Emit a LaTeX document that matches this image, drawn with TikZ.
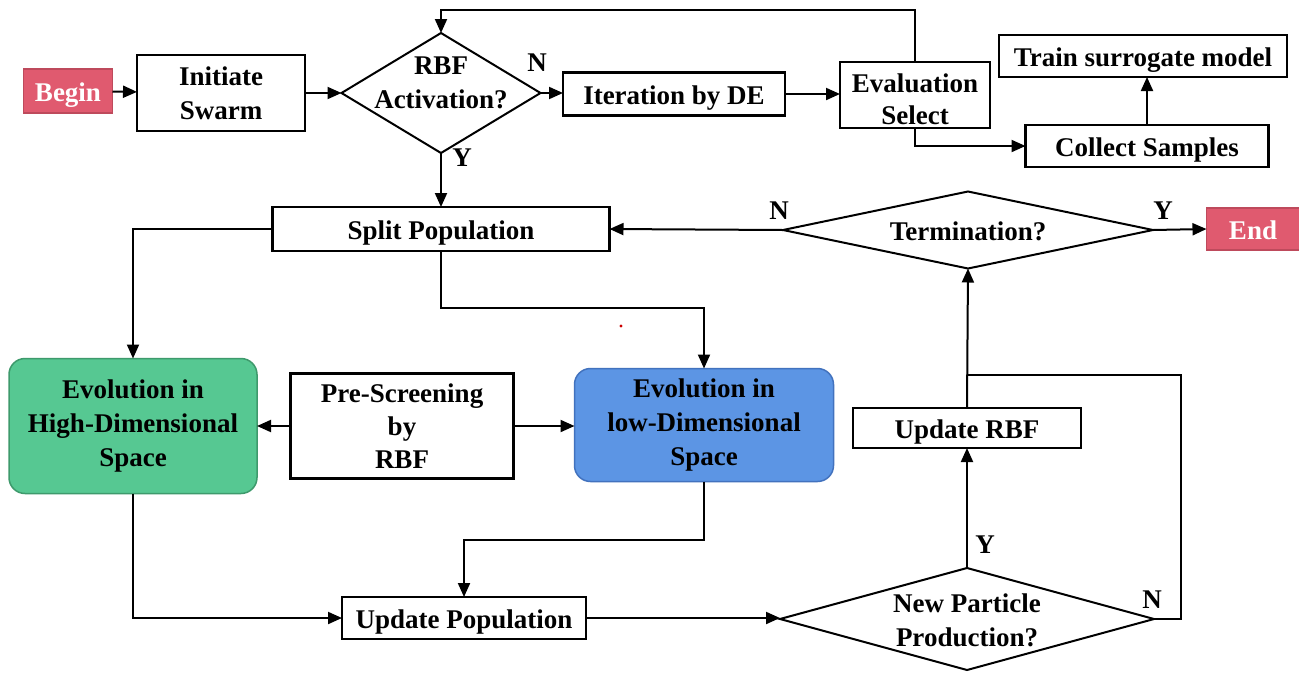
\documentclass[tikz,border=0pt]{standalone}
\usepackage{fontspec}
\setmainfont{Liberation Serif}
\usetikzlibrary{shapes.geometric,arrows.meta}
\definecolor{pinkf}{HTML}{E05A6F}
\definecolor{pinkd}{HTML}{BE4A5C}
\definecolor{greenf}{HTML}{56C892}
\definecolor{greend}{HTML}{3E9A6C}
\definecolor{bluef}{HTML}{5C95E4}
\definecolor{blued}{HTML}{4272BE}
\tikzset{
  box/.style={draw, line width=2.2pt, inner sep=0pt, outer sep=0pt, align=center},
  one/.style={text height=20pt, text depth=0pt},
  term/.style={box, one, fill=pinkf, draw=pinkd, line width=1.5pt, text=white},
  evo/.style={box, rounded corners=16pt, line width=1.5pt},
  dia/.style={draw, diamond, line width=2pt, inner sep=0pt, outer sep=0pt},
  arr/.style={line width=2pt, -{Triangle[length=14pt,width=12pt]}},
  ln/.style={line width=2pt},
  lab/.style={inner sep=0pt}
}
\begin{document}
\begin{tikzpicture}[x=1pt,y=-1pt, font=\fontsize{27}{34}\selectfont\bfseries]
\useasboundingbox[fill=white] (0,0) rectangle (1299,673);
% nodes
\node[term, minimum width=89, minimum height=44] (begin) at (68,91) {Begin};
\node[box, minimum width=168, minimum height=76] (init) at (221,93) {Initiate\\Swarm};
\node[dia, minimum width=199, minimum height=120] (rbf) at (441,93) {};
\node[lab, align=center] (rbft) at (441,83) {RBF\\Activation?};
\node[box, one, minimum width=222, minimum height=43] (iter) at (674,94) {Iteration by DE};
\node[box, minimum width=150, minimum height=66] (eval) at (915,95) {};
\node[lab, align=center, font=\fontsize{27}{32}\selectfont\bfseries] (evalt) at (915,99) {Evaluation\\Select};
\node[box, one, minimum width=288, minimum height=42] (train) at (1143,56) {Train surrogate model};
\node[box, one, minimum width=243, minimum height=42] (collect) at (1147,146) {Collect Samples};
\node[box, one, minimum width=337, minimum height=44] (split) at (441,229) {Split Population};
\node[dia, minimum width=370, minimum height=77] (term) at (968,230) {};
\node[lab, one] (termt) at (968,230) {Termination?};
\node[term, minimum width=93, minimum height=42] (end) at (1253,229) {End};
\node[evo, fill=greenf, draw=greend, minimum width=248, minimum height=135] (evoH) at (133,426) {Evolution in\\High-Dimensional\\Space};
\node[box, minimum width=223, minimum height=105, font=\fontsize{27}{33}\selectfont\bfseries] (pre) at (402,426) {Pre-Screening\\by\\RBF};
\node[evo, fill=bluef, draw=blued, minimum width=259, minimum height=113] (evoL) at (704,425) {Evolution in\\low-Dimensional\\Space};
\node[box, one, minimum width=228, minimum height=40] (urbf) at (967,428) {Update RBF};
\node[box, one, minimum width=244, minimum height=42] (upop) at (464,618) {Update Population};
\node[dia, minimum width=374, minimum height=102] (newp) at (967,619) {};
\node[lab, align=center] (newpt) at (967,620) {New Particle\\Production?};
% labels
\node[lab] (n1) at (537,63) {N};
\node[lab] (y1) at (462,158) {Y};
\node[lab] (n2) at (779,211) {N};
\node[lab] (y2) at (1163,211) {Y};
\node[lab] (y3) at (985,545) {Y};
\node[lab] (n3) at (1152,600) {N};
% red dot
\fill[red!80!black] (621,326) circle (1.6pt);
% coordinates
\coordinate (ltop) at (441,10);
\coordinate (sdrop) at (441,308);
\coordinate (ldrop) at (704,540);
\coordinate (nr) at (1181,375);
\coordinate (jn) at (967,375);
% connectors
\draw[arr] (begin) -- (init);
\draw[arr] (init.east |- rbf.west) -- (rbf.west);
\draw[arr] (rbf.east) -- (rbf.east -| iter.west);
\draw[arr] (iter.east) -- (iter.east -| eval.west);
\draw[arr] (eval.north) -- (eval.north |- ltop) -- (ltop) -- (rbf.north);
\draw[arr] (eval.south) |- (collect.west);
\draw[arr] (collect.north) -- (collect.north |- train.south);
\draw[arr] (rbf.south) -- (split.north);
\draw[arr] (split.west) -| (evoH.north);
\draw[arr] (split.south) -- (sdrop) -| (evoL.north);
\draw[arr] (pre.west) -- (evoH.east);
\draw[arr] (pre.east) -- (pre.east -| evoL.west);
\draw[arr] (evoH.south) |- (upop.west);
\draw[arr] (evoL.south) -- (ldrop) -| (upop.north);
\draw[arr] (upop.east) -- (upop.east -| newp.west);
\draw[arr] (newp.north) -- (urbf.south);
\draw[arr] (urbf.north) -- (term.south);
\draw[ln] (newp.east) -| (nr) -- (jn);
\draw[arr] (term.west) -- (split.east);
\draw[arr] (term.east) -- (end.west);
\end{tikzpicture}
\end{document}
